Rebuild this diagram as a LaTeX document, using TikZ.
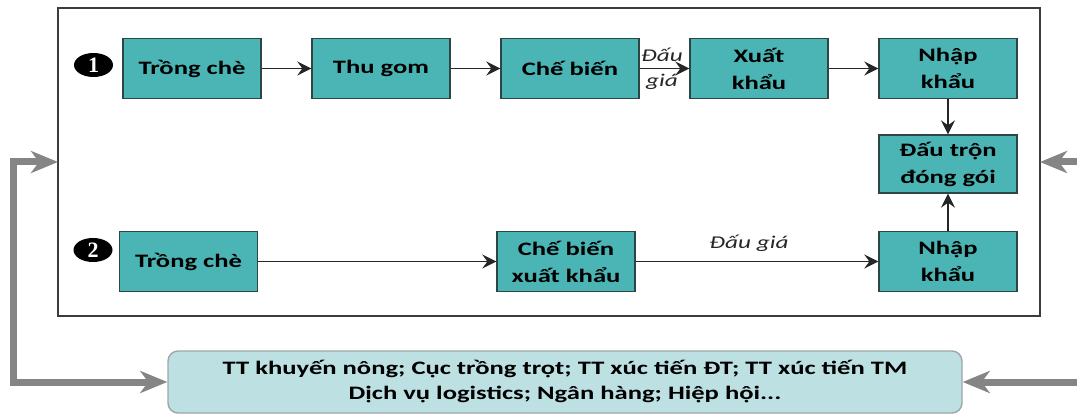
\documentclass[tikz,border=0pt]{standalone}
\usepackage{fontspec}
\setmainfont{Carlito}[FakeStretch=1.40]
\newfontfamily\numfont{Liberation Serif}
\usetikzlibrary{arrows.meta,shapes.geometric,calc}

\definecolor{teal}{HTML}{4BB5B5}
\definecolor{tealedge}{HTML}{2E4545}
\definecolor{paleblue}{HTML}{BDE0E3}
\definecolor{paleedge}{HTML}{9EA6A8}
\definecolor{framegray}{HTML}{3C3C3C}
\definecolor{linkgray}{HTML}{858585}

\tikzset{
  stepbox/.style={draw=tealedge, line width=1.4pt, fill=teal, inner sep=0pt,
    minimum width=138pt, minimum height=60pt, align=center,
    font=\fontsize{19}{27}\selectfont\bfseries, text=black},
  flow/.style={draw=black!85, line width=1.5pt,
    -{Stealth[length=14pt,width=14pt,inset=5pt]}},
  link/.style={draw=linkgray, line width=7pt, line join=miter},
  linktip/.tip={Stealth[length=27pt,width=22pt,inset=8pt]},
  bullet/.style={ellipse, fill=black, inner sep=0pt, minimum width=39pt,
    minimum height=24pt, text=white, font=\numfont\fontsize{22}{22}\selectfont\bfseries},
  note/.style={font=\fontsize{18}{18}\selectfont\itshape, text=black!85, inner sep=0pt}
}

\begin{document}
\begin{tikzpicture}[x=1pt, y=-1pt]
\useasboundingbox (0,0) rectangle (1077,414);

% frame around both chains
\node[draw=framegray, line width=1.4pt, outer sep=0pt, inner sep=0pt,
  minimum width=982pt, minimum height=308pt] (frame) at (549,162) {};

% chain 1
\node[bullet] (m1) at (93.5,65) {1};
\node[stepbox] (a1) at (192,68.5) {Trồng chè};
\node[stepbox] (a2) at (381,68.5) {Thu gom};
\node[stepbox] (a3) at (570,68.5) {Chế biến};
\node[stepbox] (a4) at (759,68.5) {Xuất\\khẩu};
\node[stepbox] (a5) at (948,68.5) {Nhập\\khẩu};
\node[stepbox, minimum height=58pt] (mix) at (948,164) {Đấu trộn\\đóng gói};

% chain 2
\node[bullet] (m2) at (93,250) {2};
\node[stepbox] (b1) at (188.5,261.5) {Trồng chè};
\node[stepbox] (b2) at (566,261.5) {Chế biến\\xuất khẩu};
\node[stepbox] (b3) at (948,261.5) {Nhập\\khẩu};

% flows
\draw[flow] (a1) -- (a2);
\draw[flow] (a2) -- (a3);
\draw[flow] (a3) -- (a4);
\node[note] (auc1) at (662,55) {Đấu};
\node[note] (auc2) at (662,82) {giá};
\draw[flow] (a4) -- (a5);
\draw[flow] (a5) -- (mix);
\draw[flow] (b1) -- (b2);
\draw[flow] (b2) -- node[note, above=9pt, xshift=-8pt] (auc3) {Đấu giá} (b3);
\draw[flow] (b3) -- (mix);

% support services
\node[draw=paleedge, line width=1.4pt, fill=paleblue, rounded corners=10pt,
  minimum width=794pt, minimum height=62pt, inner sep=0pt, align=center,
  font=\fontsize{19}{25}\selectfont\bfseries, text=black] (info) at (565,382)
  {TT khuyến nông; Cục trồng trọt; TT xúc tiến ĐT; TT xúc tiến TM\\
   Dịch vụ logistics; Ngân hàng; Hiệp hội...};

% grey links between services and chains
\coordinate (l1) at (13,162);
\coordinate (l2) at (13,382);
\coordinate (r1) at (1077,162);
\coordinate (r2) at (1077,382);
\draw[link, linktip-linktip] (frame.west |- l1) -- (l1) -- (l2) -- (info.west |- l2);
\draw[link, -linktip] (r1) -- (frame.east |- r1);
\draw[link, -linktip] (r2) -- (info.east |- r2);
\end{tikzpicture}
\end{document}
